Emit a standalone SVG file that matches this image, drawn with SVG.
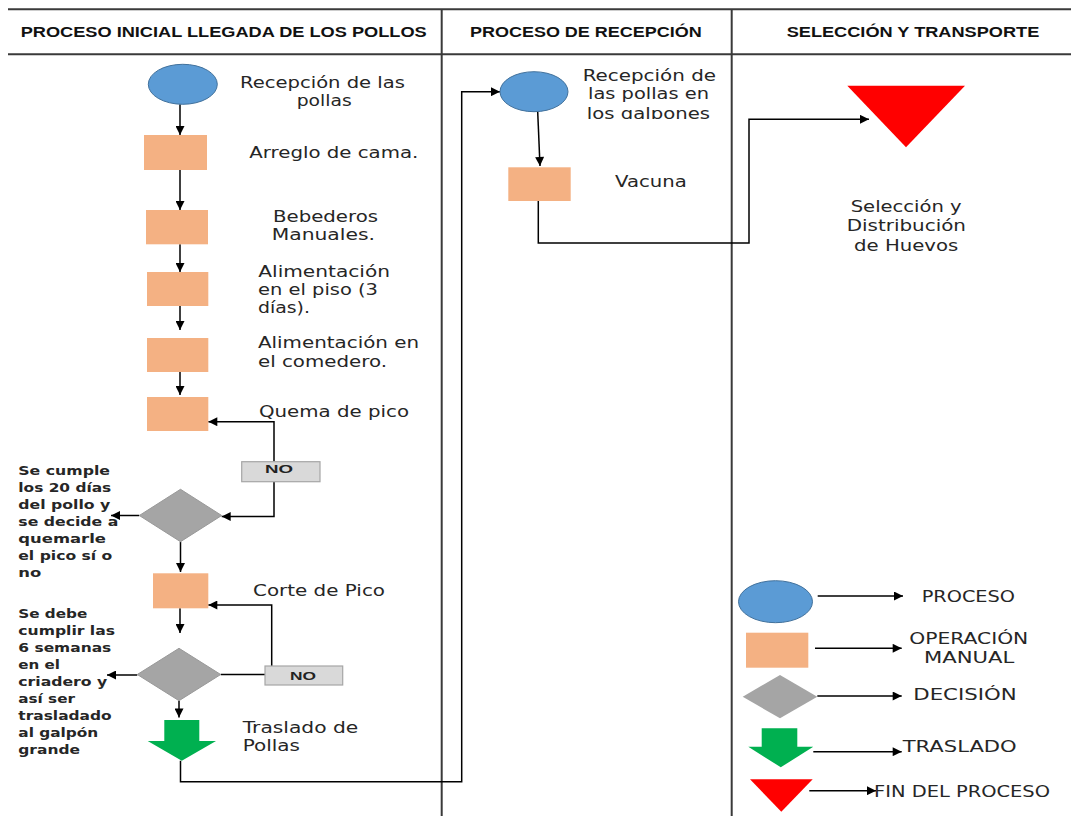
<svg xmlns="http://www.w3.org/2000/svg" width="1071" height="816" viewBox="0 0 1071 816">
<style>
.lane{stroke:#3a3a3a;stroke-width:2;fill:none}
.hd{font-family:"Liberation Sans",Arial,sans-serif;font-weight:bold;font-size:14px;fill:#111}
.lb{font-family:"DejaVu Sans","Noto Sans",sans-serif;font-size:15px;fill:#262626}
.dl{font-family:"DejaVu Sans","Noto Sans",sans-serif;font-size:12.5px;font-weight:bold;fill:#262626}
.no{font-family:"Liberation Sans",Arial,sans-serif;font-weight:bold;font-size:11.5px;fill:#222}
.proc{fill:#5B9BD5;stroke:#41719C;stroke-width:1}
.op{fill:#F4B183}
.dec{fill:#A5A5A5;stroke:#999;stroke-width:1}
.nobox{fill:#D9D9D9;stroke:#A6A6A6;stroke-width:1.2}
.tr{fill:#00B050}
.fin{fill:#FF0000}
.cn{fill:none;stroke:#000;stroke-width:1.5}
</style>
<defs>
<marker id="ah" viewBox="0 0 10 10" refX="10" refY="5" markerWidth="10" markerHeight="9" markerUnits="userSpaceOnUse" orient="auto">
<path d="M0,0 L10,5 L0,10 z" fill="#000"/>
</marker>
<clipPath id="clipG"><rect x="570" y="60" width="160" height="59"/></clipPath>
</defs>
<rect width="1071" height="816" fill="#fff"/>

<g id="lanes">
<line class="lane" x1="8" y1="9.3" x2="1071" y2="9.3"/>
<line class="lane" x1="8" y1="54.3" x2="1071" y2="54.3"/>
<line class="lane" x1="441.7" y1="9.3" x2="441.7" y2="816"/>
<line class="lane" x1="731.7" y1="9.3" x2="731.7" y2="816"/>
<text class="hd" x="20.7" y="37.3" textLength="406" lengthAdjust="spacingAndGlyphs">PROCESO INICIAL LLEGADA DE LOS POLLOS</text>
<text class="hd" x="470" y="37.3" textLength="231.7" lengthAdjust="spacingAndGlyphs">PROCESO DE RECEPCIÓN</text>
<text class="hd" x="786.7" y="37.3" textLength="252.6" lengthAdjust="spacingAndGlyphs">SELECCIÓN Y TRANSPORTE</text>
</g>

<g id="connectors">
<path class="cn" d="M180,104.3 V135" marker-end="url(#ah)"/>
<path class="cn" d="M180,170 V210" marker-end="url(#ah)"/>
<path class="cn" d="M180,244.3 V272" marker-end="url(#ah)"/>
<path class="cn" d="M180,306 V330" marker-end="url(#ah)"/>
<path class="cn" d="M180,372 V395" marker-end="url(#ah)"/>
<path class="cn" d="M274,461.7 V421.7 H208.3" marker-end="url(#ah)"/>
<path class="cn" d="M274,481.7 V516.5 H221.7" marker-end="url(#ah)"/>
<path class="cn" d="M139.3,515.5 H111" marker-end="url(#ah)"/>
<path class="cn" d="M180.5,541.7 V572" marker-end="url(#ah)"/>
<path class="cn" d="M271.7,666 V605 H208.3" marker-end="url(#ah)"/>
<path class="cn" d="M220.7,674.5 H265"/>
<path class="cn" d="M180,608.3 V633" marker-end="url(#ah)"/>
<path class="cn" d="M137.3,675 H107" marker-end="url(#ah)"/>
<path class="cn" d="M179,700.7 V717.5" marker-end="url(#ah)"/>
<path class="cn" d="M180.5,760.7 V781.7 H461.7 V91.7 H500" marker-end="url(#ah)"/>
<path class="cn" d="M537.7,111.7 L540,166" marker-end="url(#ah)"/>
<path class="cn" d="M538.3,201 V243 H749 V119.3 H869" marker-end="url(#ah)"/>
<path class="cn" d="M817.7,596 H903" marker-end="url(#ah)"/>
<path class="cn" d="M815,648.3 H901.7" marker-end="url(#ah)"/>
<path class="cn" d="M817.3,696 H901.7" marker-end="url(#ah)"/>
<path class="cn" d="M813.3,751.7 H901.7" marker-end="url(#ah)"/>
<path class="cn" d="M809.3,790.7 H876" marker-end="url(#ah)"/>
</g>

<g id="n-recepcion">
<ellipse class="proc" cx="182.8" cy="84.3" rx="34.5" ry="20"/>
<text class="lb" x="240" y="88" textLength="165" lengthAdjust="spacingAndGlyphs">Recepción de las</text>
<text class="lb" x="296.7" y="106" textLength="55" lengthAdjust="spacingAndGlyphs">pollas</text>
</g>
<g id="n-cama">
<rect class="op" x="144" y="135" width="63" height="35"/>
<text class="lb" x="249.3" y="158" textLength="169" lengthAdjust="spacingAndGlyphs">Arreglo de cama.</text>
</g>
<g id="n-bebederos">
<rect class="op" x="146" y="210" width="62" height="34.3"/>
<text class="lb" x="273" y="222" textLength="105" lengthAdjust="spacingAndGlyphs">Bebederos</text>
<text class="lb" x="271.7" y="240" textLength="103.3" lengthAdjust="spacingAndGlyphs">Manuales.</text>
</g>
<g id="n-piso">
<rect class="op" x="147" y="272" width="61.3" height="34"/>
<text class="lb" x="258.3" y="277" textLength="131.7" lengthAdjust="spacingAndGlyphs">Alimentación</text>
<text class="lb" x="258" y="295" textLength="120" lengthAdjust="spacingAndGlyphs">en el piso (3</text>
<text class="lb" x="258" y="313" textLength="52" lengthAdjust="spacingAndGlyphs">días).</text>
</g>
<g id="n-comedero">
<rect class="op" x="147" y="338" width="61.3" height="34"/>
<text class="lb" x="258" y="348" textLength="161" lengthAdjust="spacingAndGlyphs">Alimentación en</text>
<text class="lb" x="258" y="367" textLength="129" lengthAdjust="spacingAndGlyphs">el comedero.</text>
</g>
<g id="n-quema">
<rect class="op" x="147" y="397" width="61.3" height="34"/>
<text class="lb" x="259" y="417" textLength="150" lengthAdjust="spacingAndGlyphs">Quema de pico</text>
</g>
<g id="n-no1">
<rect class="nobox" x="241.7" y="461.7" width="78.3" height="20"/>
<text class="no" x="265" y="473.3" textLength="28" lengthAdjust="spacingAndGlyphs">NO</text>
</g>
<g id="n-dec1">
<polygon class="dec" points="180.5,489.3 221.7,515.5 180.5,541.7 139.3,515.5"/>
<text class="dl" x="18.3" y="475" textLength="91.7" lengthAdjust="spacingAndGlyphs">Se cumple</text>
<text class="dl" x="18.3" y="492" textLength="93" lengthAdjust="spacingAndGlyphs">los 20 días</text>
<text class="dl" x="18.3" y="509" textLength="92" lengthAdjust="spacingAndGlyphs">del pollo y</text>
<text class="dl" x="18.3" y="526" textLength="100" lengthAdjust="spacingAndGlyphs">se decide a</text>
<text class="dl" x="18.3" y="543" textLength="87.7" lengthAdjust="spacingAndGlyphs">quemarle</text>
<text class="dl" x="18.3" y="560" textLength="94" lengthAdjust="spacingAndGlyphs">el pico sí o</text>
<text class="dl" x="18.3" y="577" textLength="23" lengthAdjust="spacingAndGlyphs">no</text>
</g>
<g id="n-corte">
<rect class="op" x="153" y="573.3" width="55.3" height="35"/>
<text class="lb" x="253" y="596" textLength="132" lengthAdjust="spacingAndGlyphs">Corte de Pico</text>
</g>
<g id="n-no2">
<rect class="nobox" x="265" y="666" width="77.7" height="19"/>
<text class="no" x="290" y="680" textLength="26" lengthAdjust="spacingAndGlyphs">NO</text>
</g>
<g id="n-dec2">
<polygon class="dec" points="179,648.3 220.7,674.5 179,700.7 137.3,674.5"/>
<text class="dl" x="18.3" y="618" textLength="69" lengthAdjust="spacingAndGlyphs">Se debe</text>
<text class="dl" x="18.3" y="635" textLength="96.7" lengthAdjust="spacingAndGlyphs">cumplir las</text>
<text class="dl" x="18.3" y="652" textLength="93" lengthAdjust="spacingAndGlyphs">6 semanas</text>
<text class="dl" x="18.3" y="668.5" textLength="41.7" lengthAdjust="spacingAndGlyphs">en el</text>
<text class="dl" x="18.3" y="685.5" textLength="89" lengthAdjust="spacingAndGlyphs">criadero y</text>
<text class="dl" x="18.3" y="702.5" textLength="56.7" lengthAdjust="spacingAndGlyphs">así ser</text>
<text class="dl" x="18.3" y="719.5" textLength="93.3" lengthAdjust="spacingAndGlyphs">trasladado</text>
<text class="dl" x="18.3" y="736.5" textLength="80" lengthAdjust="spacingAndGlyphs">al galpón</text>
<text class="dl" x="18.3" y="753.5" textLength="61.7" lengthAdjust="spacingAndGlyphs">grande</text>
</g>
<g id="n-traslado">
<polygon class="tr" points="164.3,720 199.3,720 199.3,741 216,741 181.8,760.7 147.7,741 164.3,741"/>
<text class="lb" x="242.7" y="733.3" textLength="115.6" lengthAdjust="spacingAndGlyphs">Traslado de</text>
<text class="lb" x="242.7" y="751" textLength="57.3" lengthAdjust="spacingAndGlyphs">Pollas</text>
</g>

<g id="n-recepcion-galpones">
<ellipse class="proc" cx="534" cy="91.7" rx="34" ry="20"/>
<text class="lb" x="582.7" y="81" textLength="133.3" lengthAdjust="spacingAndGlyphs">Recepción de</text>
<text class="lb" x="588" y="99" textLength="121" lengthAdjust="spacingAndGlyphs">las pollas en</text>
<text class="lb" x="586.7" y="119" textLength="123.3" lengthAdjust="spacingAndGlyphs" clip-path="url(#clipG)">los galpones</text>
</g>
<g id="n-vacuna">
<rect class="op" x="508.3" y="167.3" width="62.4" height="33.7"/>
<text class="lb" x="615" y="187" textLength="71.7" lengthAdjust="spacingAndGlyphs">Vacuna</text>
</g>

<g id="n-seleccion">
<polygon class="fin" points="847.3,85.7 965,85.7 906,147.3"/>
<text class="lb" x="850.7" y="211.7" textLength="111" lengthAdjust="spacingAndGlyphs">Selección y</text>
<text class="lb" x="846.7" y="230.7" textLength="119.3" lengthAdjust="spacingAndGlyphs">Distribución</text>
<text class="lb" x="854" y="250.5" textLength="104.3" lengthAdjust="spacingAndGlyphs">de Huevos</text>
</g>

<g id="legend">
<g id="lg-proceso">
<ellipse class="proc" cx="775.5" cy="601.7" rx="37" ry="21"/>
<text class="lb" x="921.7" y="602" textLength="93.3" lengthAdjust="spacingAndGlyphs">PROCESO</text>
</g>
<g id="lg-operacion">
<rect class="op" x="746" y="632.7" width="62.3" height="35"/>
<text class="lb" x="909.3" y="644" textLength="119" lengthAdjust="spacingAndGlyphs">OPERACIÓN</text>
<text class="lb" x="924" y="663" textLength="90.3" lengthAdjust="spacingAndGlyphs">MANUAL</text>
</g>
<g id="lg-decision">
<polygon fill="#A5A5A5" points="780,675 817.3,696.7 780,718.3 742.7,696.7"/>
<text class="lb" x="913.3" y="700" textLength="103.4" lengthAdjust="spacingAndGlyphs">DECISIÓN</text>
</g>
<g id="lg-traslado">
<polygon class="tr" points="761.7,728.3 797.3,728.3 797.3,746.7 813.3,746.7 780.8,767.3 748.3,746.7 761.7,746.7"/>
<text class="lb" x="902.7" y="752" textLength="114" lengthAdjust="spacingAndGlyphs">TRASLADO</text>
</g>
<g id="lg-fin">
<polygon class="fin" points="750,779.3 812.7,779.3 781.3,811.7"/>
<text class="lb" x="874" y="797" textLength="176" lengthAdjust="spacingAndGlyphs">FIN DEL PROCESO</text>
</g>
</g>
</svg>
